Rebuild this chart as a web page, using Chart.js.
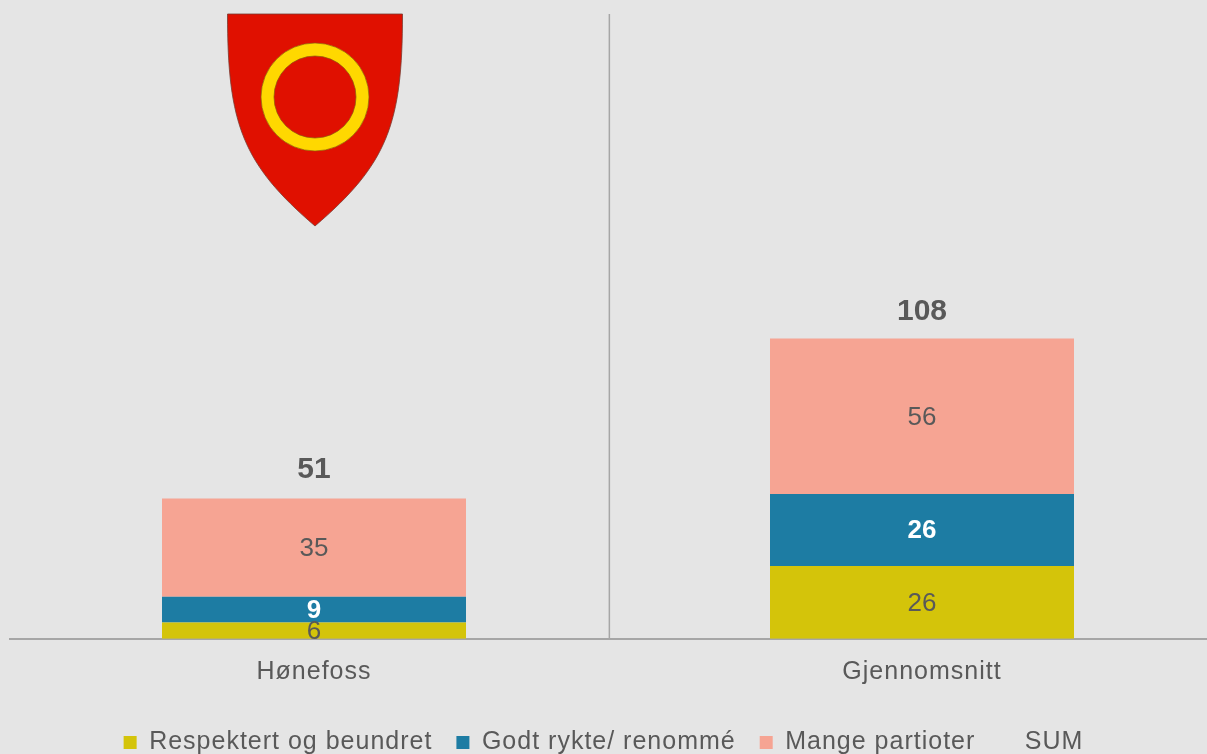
<!DOCTYPE html>
<html>
<head>
<meta charset="utf-8">
<script src="https://cdn.jsdelivr.net/npm/chart.js@4.4.1/dist/chart.umd.min.js"></script>
<style>
  html, body { margin: 0; padding: 0; background: #e5e5e5; overflow: hidden; }
  #wrap { width: 1207px; height: 754px; overflow: hidden; }
</style>
</head>
<body>
<div id="wrap"><canvas id="chart" width="1226" height="754"></canvas></div>
<script>
// Data
const categories = ['Hønefoss', 'Gjennomsnitt'];
const respektert = [5.9, 26.2];
const godtRykte = [9.2, 25.9];
const mangePartioter = [35.4, 56.0];
const sumValues = [51, 108];

const FONT = '"Liberation Sans", Arial, sans-serif';
const TEXT = '#595959';

// Excel-like wide text for axis and legend
const spacingPlugin = {
    id: 'spacing',
    beforeLayout(chart) { chart.ctx.letterSpacing = '1px'; },
    beforeDraw(chart) { chart.ctx.letterSpacing = '1px'; },
    afterLayout(chart) {
        // the plot runs past the right edge; keep the legend centred on the visible part
        const lg = chart.legend;
        const visible = document.getElementById('wrap').clientWidth;
        const shift = (lg.left + lg.right) / 2 - visible / 2;
        lg.left -= shift;
        lg.right -= shift;
    }
};

// Labels inside bars and SUM above the stack
const labelPlugin = {
    id: 'labels',
    afterDatasetsDraw(chart) {
        const ctx = chart.ctx;
        ctx.save();
        ctx.letterSpacing = '0px';
        ctx.textAlign = 'center';
        ctx.textBaseline = 'middle';
        chart.data.datasets.forEach((ds, i) => {
            const meta = chart.getDatasetMeta(i);
            const st = ds.labelStyle;
            ctx.fillStyle = st.color;
            ctx.font = `${st.weight} ${st.size}px ${FONT}`;
            meta.data.forEach((el, j) => {
                const txt = String(Math.round(ds.data[j]));
                if (ds.type === 'line') {
                    ctx.fillText(txt, el.x, el.y - 27);
                } else {
                    ctx.fillText(txt, el.x, (el.y + el.base) / 2 + 1);
                }
            });
        });
        ctx.restore();
    }
};

// Divider line and coat of arms
const decorPlugin = {
    id: 'decor',
    beforeDatasetsDraw(chart) {
        const { ctx, chartArea } = chart;
        const x = chartArea.left + chartArea.width * 0.4929;
        ctx.save();
        ctx.strokeStyle = '#a6a6a6';
        ctx.lineWidth = 1.5;
        ctx.beginPath();
        ctx.moveTo(x, chartArea.top);
        ctx.lineTo(x, chartArea.bottom);
        ctx.stroke();

        // shield
        const cx = chart.scales.x.getPixelForValue(0) + 1;
        const top = chartArea.top;
        const hw = 87.5;
        ctx.beginPath();
        ctx.moveTo(cx - hw, top);
        ctx.lineTo(cx + hw, top);
        ctx.bezierCurveTo(cx + hw, top + 110, cx + hw - 15, top + 150, cx, top + 212);
        ctx.bezierCurveTo(cx - hw + 15, top + 150, cx - hw, top + 110, cx - hw, top);
        ctx.closePath();
        ctx.fillStyle = '#e01000';
        ctx.fill();
        ctx.strokeStyle = '#7a3a30';
        ctx.lineWidth = 0.8;
        ctx.stroke();

        // ring
        const ry = top + 83;
        ctx.beginPath();
        ctx.arc(cx, ry, 54, 0, Math.PI * 2);
        ctx.arc(cx, ry, 41, 0, Math.PI * 2, true);
        ctx.fillStyle = '#ffd800';
        ctx.fill('evenodd');
        ctx.strokeStyle = '#8a5a10';
        ctx.lineWidth = 0.7;
        ctx.beginPath();
        ctx.arc(cx, ry, 54, 0, Math.PI * 2);
        ctx.stroke();
        ctx.beginPath();
        ctx.arc(cx, ry, 41, 0, Math.PI * 2);
        ctx.stroke();
        ctx.restore();
    }
};

new Chart(document.getElementById('chart'), {
    type: 'bar',
    data: {
        labels: categories,
        datasets: [
            {
                label: 'Respektert og beundret',
                data: respektert,
                backgroundColor: '#d4c40a',
                labelStyle: { color: TEXT, size: 26, weight: 'normal' }
            },
            {
                label: 'Godt rykte/ renommé',
                data: godtRykte,
                backgroundColor: '#1d7ca3',
                labelStyle: { color: '#ffffff', size: 26, weight: 'bold' }
            },
            {
                label: 'Mange partioter',
                data: mangePartioter,
                backgroundColor: '#f6a493',
                labelStyle: { color: TEXT, size: 26, weight: 'normal' }
            },
            {
                type: 'line',
                label: 'SUM',
                data: sumValues,
                stack: 'sum',
                showLine: false,
                pointRadius: 0,
                backgroundColor: 'rgba(0,0,0,0)',
                borderColor: 'rgba(0,0,0,0)',
                labelStyle: { color: TEXT, size: 30, weight: 'bold' }
            }
        ]
    },
    options: {
        responsive: false,
        animation: false,
        devicePixelRatio: 1,
        layout: { padding: { left: 10, right: 0, top: 14, bottom: -11 } },
        datasets: {
            bar: { barPercentage: 0.5, categoryPercentage: 1.0 }
        },
        plugins: {
            tooltip: { enabled: false },
            legend: {
                position: 'bottom',
                title: { display: true, text: '', font: { size: 1 }, padding: { top: 4, bottom: 4 } },
                labels: {
                    color: TEXT,
                    font: { size: 25, family: FONT },
                    boxWidth: 13,
                    boxHeight: 13,
                    padding: 24
                }
            }
        },
        scales: {
            x: {
                stacked: true,
                offset: true,
                grid: { display: false },
                border: { display: true, color: '#a6a6a6', width: 2 },
                ticks: { color: TEXT, font: { size: 25, family: FONT }, padding: 10 }
            },
            y: {
                stacked: true,
                display: false,
                min: 0,
                max: 225
            }
        }
    },
    plugins: [spacingPlugin, decorPlugin, labelPlugin]
});
</script>
</body>
</html>
